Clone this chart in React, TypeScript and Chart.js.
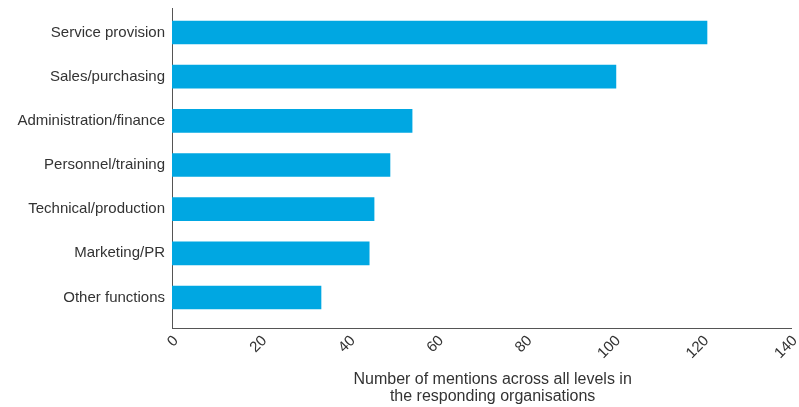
import React, { useEffect, useRef } from "react";
import { Chart, registerables } from "chart.js";

Chart.register(...registerables);

const categories = [
  "Service provision",
  "Sales/purchasing",
  "Administration/finance",
  "Personnel/training",
  "Technical/production",
  "Marketing/PR",
  "Other functions",
];
const mentions = [121, 100.4, 54.3, 49.3, 45.7, 44.6, 33.7];
const xMin = 0;
const xMax = 140;
const xStep = 20;
const axisTitle = ["Number of mentions across all levels in", "the responding organisations"];

const FONT = "'Liberation Sans', Arial, sans-serif";
const TEXT = "#333333";
const BAR = "#00a7e2";
const AXIS = "#555555";
const TITLE_INDENT = "     ";

export default function App() {
  const ref = useRef<HTMLCanvasElement | null>(null);
  useEffect(() => {
    if (!ref.current) return;
    const chart = new Chart(ref.current, {
      type: "bar",
      data: {
        datasets: [
          {
            data: mentions.map((v, i) => ({ x: v, y: i })),
            backgroundColor: BAR,
            borderWidth: 0,
            barThickness: 23,
          },
        ],
      },
      options: {
        indexAxis: "y",
        animation: false,
        responsive: true,
        maintainAspectRatio: false,
        layout: { padding: { top: 8, right: 8, bottom: 0, left: 0 } },
        plugins: { legend: { display: false }, tooltip: { enabled: false } },
        scales: {
          x: {
            type: "linear",
            position: "bottom",
            min: xMin,
            max: xMax,
            offset: false,
            grid: { display: false, drawTicks: false },
            border: { display: true, color: AXIS, width: 1 },
            ticks: {
              stepSize: xStep,
              autoSkip: false,
              minRotation: 45,
              maxRotation: 45,
              padding: 4,
              labelOffset: 4,
              color: TEXT,
              font: { family: FONT, size: 15 },
            },
            title: {
              display: true,
              text: axisTitle.map((t) => TITLE_INDENT + t),
              color: TEXT,
              font: { family: FONT, size: 16, lineHeight: 1.06 },
              padding: { top: 0, bottom: 2 },
            },
            afterFit: (s: any) => {
              s.height = 79;
              s.paddingLeft = 0;
              s.paddingRight = 0;
            },
          },
          y: {
            type: "linear",
            reverse: true,
            min: -0.555,
            max: 6.69,
            offset: false,
            grace: 0,
            grid: { display: false, drawTicks: false },
            border: { display: true, color: AXIS, width: 1 },
            ticks: {
              stepSize: 1,
              includeBounds: false,
              autoSkip: false,
              padding: 7,
              color: TEXT,
              font: { family: FONT, size: 15 },
              callback: (v: any) =>
                Number.isInteger(v) && v >= 0 && v < categories.length ? categories[v] : "",
            },
            afterFit: (s: any) => {
              s.width = 172;
              s.paddingTop = 0;
              s.paddingBottom = 0;
            },
          },
        },
      },
    } as any);
    return () => chart.destroy();
  }, []);
  return (
    <div style={{ position: "fixed", left: 0, top: 0, width: 799, height: 407 }}>
      <canvas ref={ref} />
    </div>
  );
}
